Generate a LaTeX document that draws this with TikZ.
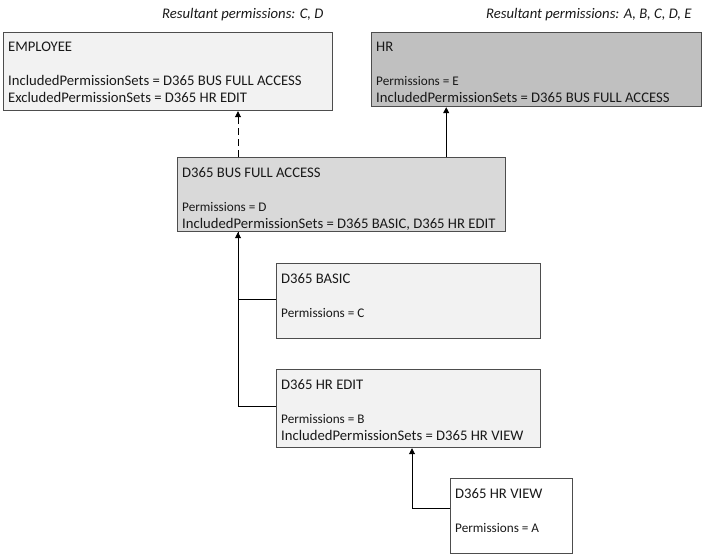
\documentclass[tikz,border=0pt]{standalone}
\usepackage{fontspec}
\setmainfont{Carlito}
\usepackage{tikz}
\usetikzlibrary{arrows.meta}

\definecolor{boxline}{HTML}{4D4D4D}
\definecolor{lightset}{HTML}{F2F2F2}
\definecolor{midset}{HTML}{D9D9D9}
\definecolor{darkset}{HTML}{C0C0C0}
\newcommand{\smallperm}[1]{{\fontsize{13.2}{17}\selectfont #1}}

\begin{document}
\begin{tikzpicture}[x=1pt, y=-1pt,
      setbox/.style={draw=boxline, line width=1.2pt, anchor=north west, inner sep=0pt},
      settext/.style={anchor=north west, align=left, inner xsep=5pt, inner ysep=10pt,
        text=black!90, font=\fontsize{14.67}{17}\selectfont},
      result/.style={anchor=base east, text=black!90, font=\fontsize{14.67}{17}\selectfont\itshape},
      dep/.style={-{Triangle[length=6pt,width=6pt]}, line width=0.9pt}]
      \useasboundingbox (0,0) rectangle (703,555);
      % boxes
      \node[setbox, fill=lightset, minimum width=329pt, minimum height=78pt] (emp) at (3,32) {};
      \node[setbox, fill=darkset, minimum width=330pt, minimum height=74pt] (hr) at (371,32) {};
      \node[setbox, fill=midset, minimum width=328pt, minimum height=74pt] (bus) at (177,157) {};
      \node[setbox, fill=lightset, minimum width=264pt, minimum height=75pt] (basic) at (276,263) {};
      \node[setbox, fill=lightset, minimum width=264pt, minimum height=78pt] (edit) at (276,369) {};
      \node[setbox, fill=white, minimum width=122pt, minimum height=75pt] (view) at (450,478) {};
      % texts
      \node[settext] (emp-t) at (emp.north west) {EMPLOYEE\\[17pt]
        IncludedPermissionSets = D365 BUS FULL ACCESS\\ExcludedPermissionSets = D365 HR EDIT};
      \node[settext] (hr-t) at (hr.north west) {HR\\[17pt]
        \smallperm{Permissions = E}\\IncludedPermissionSets = D365 BUS FULL ACCESS};
      \node[settext] (bus-t) at (bus.north west) {D365 BUS FULL ACCESS\\[17pt]
        \smallperm{Permissions = D}\\IncludedPermissionSets = D365 BASIC, D365 HR EDIT};
      \node[settext] (basic-t) at (basic.north west) {D365 BASIC\\[17pt]\smallperm{Permissions = C}};
      \node[settext] (edit-t) at (edit.north west) {D365 HR EDIT\\[17pt]
        \smallperm{Permissions = B}\\IncludedPermissionSets = D365 HR VIEW};
      \node[settext] (view-t) at (view.north west) {D365 HR VIEW\\[17pt]\smallperm{Permissions = A}};
      \node[result] (emp-res) at (327,18.7) {Resultant permissions: C, D};
      \node[result] (hr-res) at (695,18.7) {Resultant permissions: A, B, C, D, E};
      % connectors
      \coordinate (bus-l) at ([xshift=61pt]bus.north west);
      \coordinate (bus-r) at ([xshift=-60pt]bus.north east);
      \coordinate (edit-l) at ([xshift=136pt]edit.south west);
      \draw[dep, dash pattern=on 7pt off 4pt] (bus-l) -- (bus-l |- emp.south);
      \draw[dep] (bus-r) -- (bus-r |- hr.south);
      \draw[dep] ([yshift=2pt]basic.west) -| (bus-l |- bus.south);
      \draw[line width=0.9pt] ([yshift=2pt]edit.west) -| (bus-l |- bus.south);
      \draw[dep] ([yshift=8pt]view.west) -| (edit-l);
    \end{tikzpicture}
\end{document}
